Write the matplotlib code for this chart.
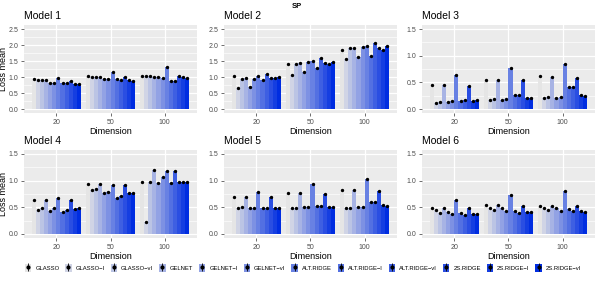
import numpy as np
import matplotlib
matplotlib.use("Agg")
import matplotlib.pyplot as plt
from matplotlib.patches import Patch
from matplotlib.lines import Line2D
from matplotlib.legend_handler import HandlerTuple
from matplotlib.colors import to_rgb, to_hex

plt.rcParams['font.family'] = ['Liberation Sans', 'DejaVu Sans']

# Données
methods = ['GLASSO', 'GLASSO-I', 'GLASSO-vI', 'GELNET', 'GELNET-I', 'GELNET-vI',
           'ALT.RIDGE', 'ALT.RIDGE-I', 'ALT.RIDGE-vI', '2S.RIDGE', '2S.RIDGE-I', '2S.RIDGE-vI']
legend_labels = ['GLASSO', 'GLASSO\u2212I', 'GLASSO\u2212vI', 'GELNET', 'GELNET\u2212I', 'GELNET\u2212vI',
                 'ALT.RIDGE', 'ALT.RIDGE\u2212I', 'ALT.RIDGE\u2212vI', '2S.RIDGE', '2S.RIDGE\u2212I', '2S.RIDGE\u2212vI']
dims = ['20', '50', '100']

model1 = [[0.95, 0.90, 0.90, 0.91, 0.80, 0.80, 0.97, 0.80, 0.80, 0.89, 0.79, 0.77],
          [1.02, 1.00, 1.00, 1.01, 0.95, 0.93, 1.17, 0.93, 0.90, 0.99, 0.92, 0.89],
          [1.04, 1.04, 1.03, 1.01, 1.01, 0.98, 1.30, 0.89, 0.89, 1.02, 1.01, 0.96]]
model2 = [[1.02, 0.65, 0.95, 0.97, 0.70, 0.95, 1.04, 0.90, 1.08, 0.98, 0.98, 0.99],
          [1.40, 1.07, 1.40, 1.43, 1.17, 1.47, 1.51, 1.28, 1.58, 1.45, 1.42, 1.48],
          [1.83, 1.55, 1.92, 1.92, 1.61, 1.94, 1.96, 1.66, 2.06, 1.92, 1.85, 1.97]]
model3 = [[0.45, 0.11, 0.14, 0.45, 0.13, 0.15, 0.63, 0.15, 0.17, 0.44, 0.15, 0.17],
          [0.55, 0.16, 0.18, 0.55, 0.17, 0.18, 0.76, 0.27, 0.27, 0.54, 0.21, 0.21],
          [0.61, 0.20, 0.22, 0.60, 0.21, 0.22, 0.85, 0.41, 0.42, 0.59, 0.27, 0.25]]
model4 = [[0.64, 0.45, 0.49, 0.63, 0.44, 0.48, 0.68, 0.41, 0.45, 0.63, 0.47, 0.48],
          [0.93, 0.82, 0.84, 0.93, 0.77, 0.79, 0.92, 0.68, 0.71, 0.92, 0.77, 0.77],
          [0.97, 0.23, 0.97, 1.20, 0.95, 1.07, 1.18, 0.96, 1.19, 0.97, 0.97, 0.97]]
model5 = [[0.70, 0.49, 0.50, 0.70, 0.49, 0.49, 0.79, 0.48, 0.49, 0.69, 0.49, 0.49],
          [0.76, 0.49, 0.49, 0.76, 0.51, 0.51, 0.93, 0.52, 0.52, 0.75, 0.51, 0.50],
          [0.82, 0.49, 0.49, 0.82, 0.51, 0.51, 1.03, 0.60, 0.60, 0.81, 0.55, 0.53]]
model6 = [[0.48, 0.45, 0.40, 0.49, 0.42, 0.38, 0.63, 0.39, 0.36, 0.48, 0.38, 0.37],
          [0.54, 0.49, 0.45, 0.54, 0.49, 0.44, 0.73, 0.44, 0.40, 0.52, 0.42, 0.41],
          [0.53, 0.49, 0.45, 0.53, 0.49, 0.44, 0.80, 0.46, 0.44, 0.52, 0.43, 0.41]]

models = [model1, model2, model3, model4, model5, model6]
titles = ['Model 1', 'Model 2', 'Model 3', 'Model 4', 'Model 5', 'Model 6']
ymax = [2.5, 2.5, 1.5, 1.5, 1.5, 1.5]
erro = 0.012

# Cores: degradê cinza -> azul
c0 = np.array(to_rgb('#E5E5E5'))
c1 = np.array(to_rgb('#002DE1'))
cores = [to_hex(c0 + (c1 - c0) * i / (len(methods) - 1)) for i in range(len(methods))]

W, H = 598, 284
fig = plt.figure(figsize=(W / 100, H / 100), dpi=100)

col_x = [(24, 197), (224, 397), (422, 595)]
row_y = [(25, 113), (150, 238)]

largura = 0.9 / len(methods)
x = np.arange(1, len(dims) + 1)

for k, dados in enumerate(models):
    r, c = divmod(k, 3)
    x0, x1 = col_x[c]
    y0, y1 = row_y[r]
    ax = fig.add_axes([x0 / W, 1 - y1 / H, (x1 - x0) / W, (y1 - y0) / H])
    ax.set_facecolor('#EBEBEB')
    dados = np.array(dados)
    for i in range(len(methods)):
        pos = x - 0.45 + largura * (i + 0.5)
        ax.bar(pos, dados[:, i], width=largura, color=cores[i], zorder=3, linewidth=0)
        ax.errorbar(pos, dados[:, i], yerr=erro, fmt='o', ms=1.4, color='black',
                    elinewidth=0.6, capsize=0, zorder=4)
    ax.set_xlim(0.4, 3.6)
    ax.set_ylim(-0.05 * ymax[k], ymax[k] * 1.05)
    ax.set_xticks(x)
    ax.set_xticklabels(dims)
    ax.set_yticks(np.arange(0, ymax[k] + 0.01, 0.5))
    ax.set_yticks(np.arange(0.25, ymax[k], 0.5), minor=True)
    ax.set_xticks([], minor=True)
    ax.grid(True, which='major', color='white', lw=0.9, zorder=0)
    ax.grid(True, which='minor', axis='y', color='white', lw=0.45, zorder=0)
    for s in ax.spines.values():
        s.set_visible(False)
    ax.tick_params(which='major', length=2.5, width=0.5, color='#333333',
                   labelsize=5, labelcolor='#4D4D4D', pad=1.5)
    ax.tick_params(which='minor', length=0)
    ax.set_yticklabels(['%.1f' % v for v in np.arange(0, ymax[k] + 0.01, 0.5)])
    ax.set_xlabel('Dimension', fontsize=6.5, labelpad=1)
    if c == 0:
        ax.set_ylabel('Loss mean', fontsize=6.5)
        ax.yaxis.set_label_coords(-16 / 173, 0.5)
    ax.set_title(titles[k], fontsize=7.5, loc='left', pad=4)

fig.text(297 / W, 1 - 6 / H, 'SP', fontsize=5.5, fontweight='bold', ha='center', va='center')

# Legenda
handles = []
for cor in cores:
    handles.append((Patch(facecolor=cor, edgecolor='none'),
                    Line2D([], [], color='black', marker='|', ms=6, mew=0.6, ls='none'),
                    Line2D([], [], color='black', marker='o', ms=2, ls='none')))
fig.legend(handles, legend_labels, handler_map={tuple: HandlerTuple(ndivide=1, pad=0)},
           loc='center', bbox_to_anchor=(303 / W, 1 - 268 / H), ncol=12, frameon=False,
           fontsize=4.2, handlelength=1.1, handleheight=1.6, handletextpad=0.7,
           columnspacing=1.0, borderpad=0)

plt.savefig('out.png', dpi=100)
